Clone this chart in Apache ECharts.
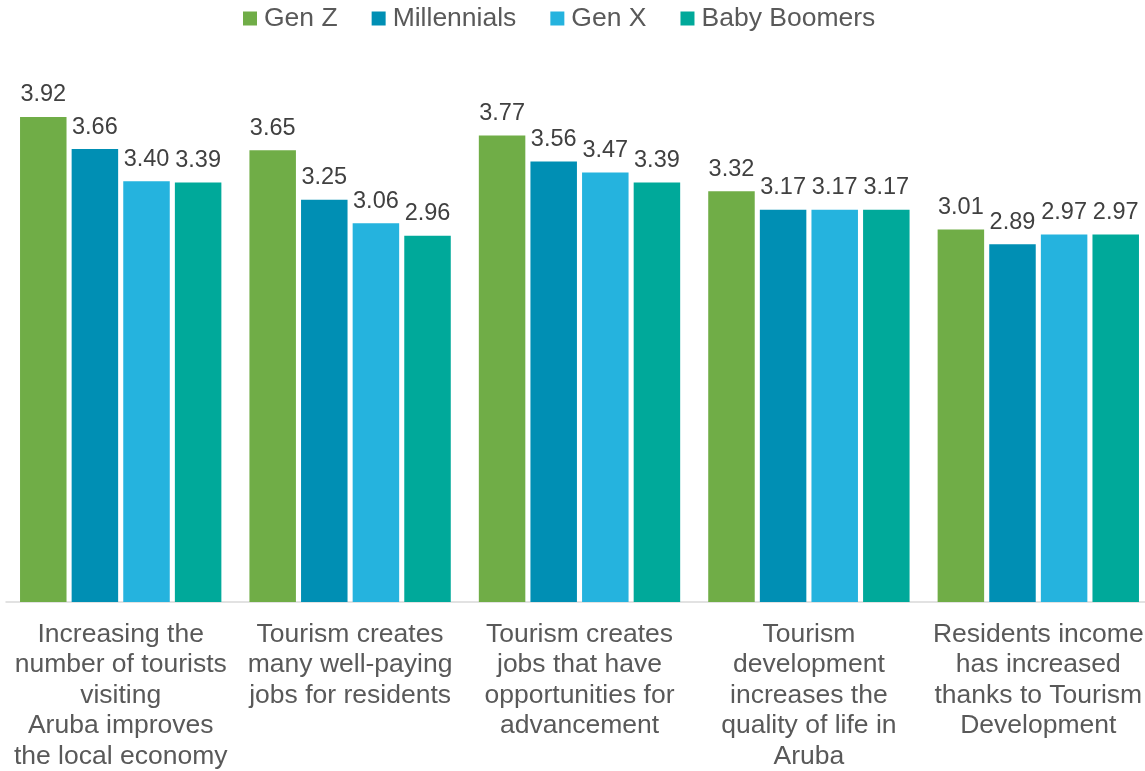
<!DOCTYPE html>
<html>
<head>
<meta charset="utf-8">
<script src="https://cdn.jsdelivr.net/npm/echarts@6/dist/echarts.min.js"></script>
<style>
  html, body { margin: 0; padding: 0; background: #ffffff; }
  #chart { width: 1145px; height: 771px; }
</style>
</head>
<body>
<div id="chart"></div>
<script>
// Survey statements (x-axis categories)
const categories = [
  "Increasing the\nnumber of tourists\nvisiting\nAruba improves\nthe local economy",
  "Tourism creates\nmany well-paying\njobs for residents",
  "Tourism creates\njobs that have\nopportunities for\nadvancement",
  "Tourism\ndevelopment\nincreases the\nquality of life in\nAruba",
  "Residents income\nhas increased\nthanks to Tourism\nDevelopment"
];

// Average agreement score per generation
const genZ        = [3.92, 3.65, 3.77, 3.32, 3.01];
const millennials = [3.66, 3.25, 3.56, 3.17, 2.89];
const genX        = [3.40, 3.06, 3.47, 3.17, 2.97];
const boomers     = [3.39, 2.96, 3.39, 3.17, 2.97];

const seriesNames = ["Gen Z", "Millennials", "Gen X", "Baby Boomers"];
const seriesData  = [genZ, millennials, genX, boomers];
const colors      = ["#70AD47", "#008FB4", "#25B3DE", "#00A99A"];

const FONT = "'Liberation Sans', Arial, sans-serif";

const chart = echarts.init(document.getElementById('chart'), null, { renderer: 'canvas' });

chart.setOption({
  animation: false,
  color: colors,
  legend: {
    data: seriesNames,
    top: 0,
    left: 238,
    icon: 'rect',
    itemWidth: 14,
    itemHeight: 14,
    itemGap: 34,
    textStyle: {
      fontFamily: FONT,
      fontSize: 26.5,
      color: '#595959',
      padding: [0, 0, 0, 2]
    }
  },
  // plot area runs slightly past the right edge of the canvas
  grid: {
    left: 6,
    width: 1147,
    top: 107,
    bottom: 169,
    containLabel: false,
    outerBoundsMode: 'none'
  },
  xAxis: {
    type: 'category',
    data: categories,
    axisLine: { show: true, lineStyle: { color: '#D9D9D9', width: 1.5 } },
    axisTick: { show: false },
    axisLabel: {
      interval: 0,
      margin: 17,
      fontFamily: FONT,
      fontSize: 26.5,
      lineHeight: 30.6,
      color: '#595959',
      align: 'center'
    }
  },
  yAxis: {
    type: 'value',
    min: 0,
    max: 4,
    show: false,
    splitLine: { show: false }
  },
  series: seriesData.map((d, i) => ({
    name: seriesNames[i],
    type: 'bar',
    data: d,
    barWidth: 46.5,
    barGap: '11%',
    itemStyle: { color: colors[i] },
    label: {
      show: true,
      position: 'top',
      distance: 10,
      fontFamily: FONT,
      fontSize: 23.5,
      color: '#404040',
      formatter: p => p.value.toFixed(2)
    }
  }))
});
</script>
</body>
</html>
